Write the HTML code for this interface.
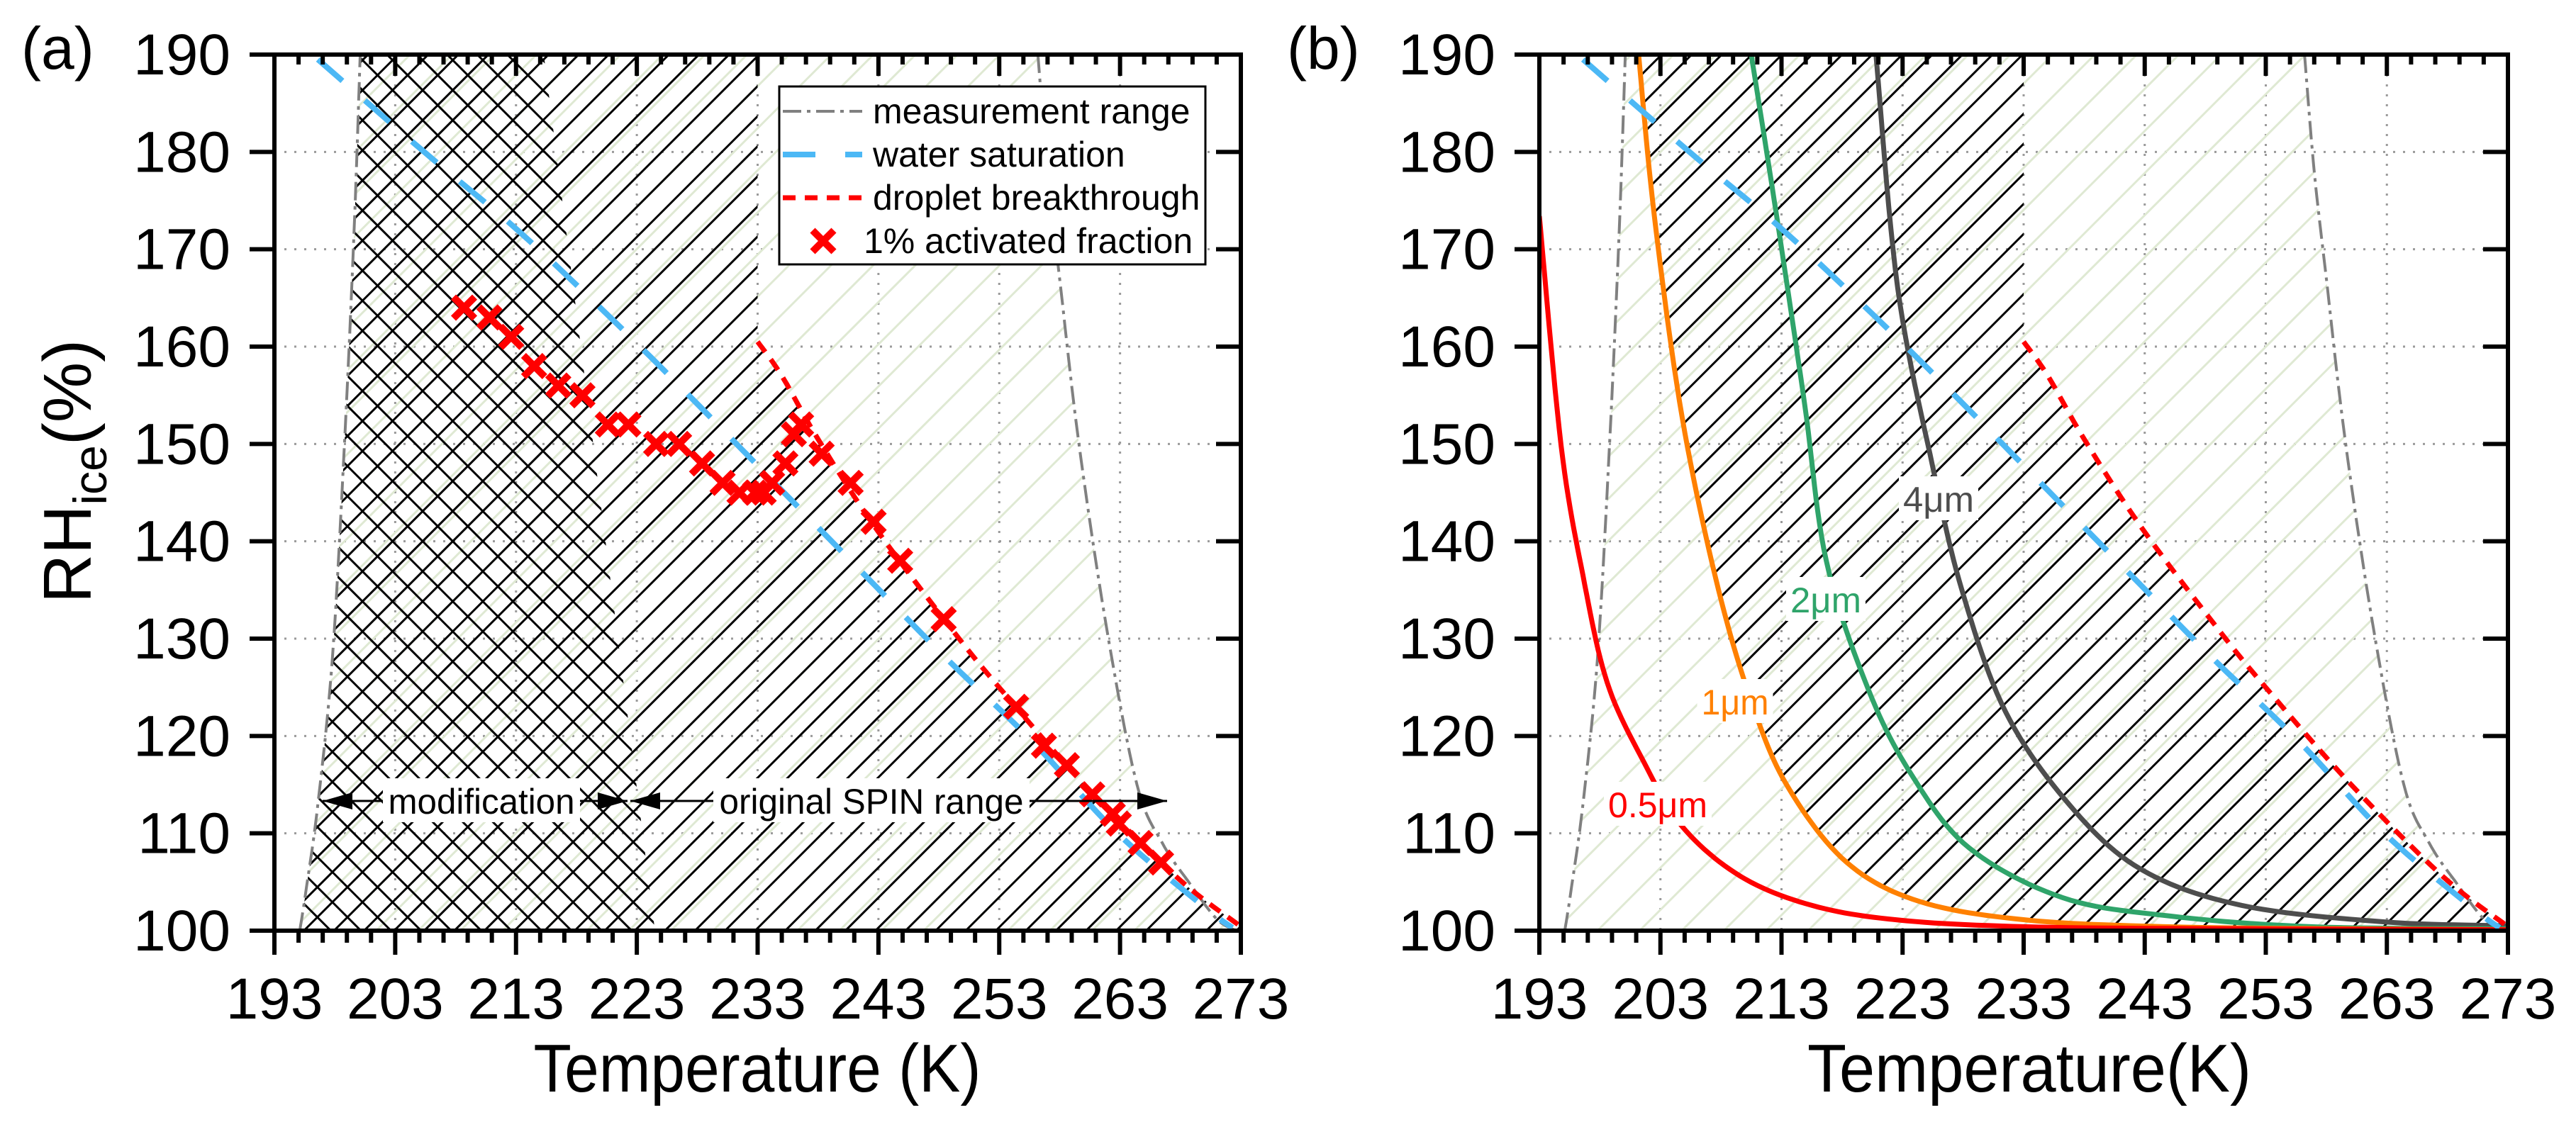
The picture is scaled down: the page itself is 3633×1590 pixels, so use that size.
<!DOCTYPE html>
<html><head><meta charset="utf-8"><style>
html,body{margin:0;padding:0;background:#fff;}
svg{display:block;font-family:"Liberation Sans",Arial,sans-serif;}
</style></head><body>
<svg id="fig" xmlns="http://www.w3.org/2000/svg" width="3633" height="1590" viewBox="0 0 3633 1590">
<defs>
<pattern id="hFwd" patternUnits="userSpaceOnUse" width="30" height="30" patternTransform="rotate(45)"><line x1="0" y1="0" x2="0" y2="30" stroke="#000" stroke-width="6"/></pattern>
<pattern id="hBack" patternUnits="userSpaceOnUse" width="30" height="30" patternTransform="rotate(-45)"><line x1="0" y1="0" x2="0" y2="30" stroke="#000" stroke-width="6"/></pattern>
<pattern id="hGreen" patternUnits="userSpaceOnUse" width="42" height="42" patternTransform="rotate(45)"><line x1="0" y1="0" x2="0" y2="42" stroke="#dfe9d3" stroke-width="6"/></pattern>
<clipPath id="clipA"><rect x="387" y="77" width="1363" height="1236"/></clipPath>
<clipPath id="clipB"><rect x="2171" y="77" width="1366" height="1236"/></clipPath>
</defs>
<g id="panelA"></g>
<g id="panelB"></g>
<text x="30" y="97" font-size="84">(a)</text>
<text x="1815" y="97" font-size="84">(b)</text>
<text transform="translate(128,665) rotate(-90)" text-anchor="middle" font-size="96">RH<tspan font-size="66" dy="22">ice</tspan><tspan dy="-22">(%)</tspan></text>
<text x="1068" y="1540" text-anchor="middle" font-size="96" textLength="631" lengthAdjust="spacingAndGlyphs">Temperature (K)</text>
<text x="2862" y="1540" text-anchor="middle" font-size="96" textLength="626" lengthAdjust="spacingAndGlyphs">Temperature(K)</text>
</svg>
<script>
// ---- data ----
const xTicks = [193,203,213,223,233,243,253,263,273];
const yTicks = [100,110,120,130,140,150,160,170,180,190];
const measLeft = [[195.1,100],[195.6,104],[196.6,113],[197.8,128],[198.8,150],[199.6,172],[200.1,190]];
const measRight = [[256.2,190],[257,178],[258,167],[259.6,150],[261.9,131],[264.4,115],[266.5,109],[268.8,104.8],[271,101.2],[272.6,100]];
const waterSat = [[196.6,189.5],[205.4,180],[213.1,172],[220.8,163],[227.3,155],[234.4,146],[241.5,137],[248.6,128],[255.7,119.5],[262.8,110],[269.9,102.5],[272.3,100.3]];
const breakthrough = [[233,160.5],[235,157],[238,150.5],[242.8,141.3],[249.3,130.6],[253.4,124.4],[259.9,115.2],[267.6,105.6],[272.8,100.6]];
const modBoundary = [[215.3,190],[224.5,100]];
const afT = [208.7,210.8,212.6,214.5,216.5,218.5,220.6,222.3,224.6,226.5,228.4,230.1,231.5,232.8,233.5,234.2,235.3,236.0,236.6,238.3,240.7,242.6,244.8,248.4,254.4,256.7,258.6,260.7,262.4,262.9,264.7,266.4];
const afRH = [164,163,161,158,156,155,152,152,150,150,148,146,145,145,145,146,148,151,152,149,146,142,138,132,123,119,117,114,112,111,109,107];
const curve05 = [[193,173.4],[194.8,149.8],[196.6,136.5],[198.6,125.5],[201.6,117.4],[204.8,110.7],[209.6,105.6],[215.5,102.6],[222.6,101.1],[233.2,100.4],[250,100.2],[273,100.1]];
const curve1 = [[201.2,190],[202.5,173.4],[204.8,152.7],[207.8,135],[210.8,122.5],[213.7,114.4],[218.4,107],[224.4,103],[233.2,101.1],[245,100.4],[260,100.2],[273,100.1]];
const curve2 = [[210.5,190],[212.6,173.4],[214.9,154.2],[216.7,138],[220.2,124.7],[223.8,115.9],[228.5,108.5],[236.2,103.4],[245.1,101.5],[256.9,100.4],[273,100.2]];
const curve4 = [[220.8,190],[222.6,166],[225.5,147.6],[227.9,135],[231.5,122.5],[236.8,112.9],[242.7,106.3],[251,102.6],[262.8,100.9],[273,100.5]];

const NS = "http://www.w3.org/2000/svg";
const Y0 = 77, Y1 = 1313;
function yS(r){ return Y0 + (190 - r) * (Y1 - Y0) / 90; }
function mk(parent, tag, attrs){ const e = document.createElementNS(NS, tag); for (const k in attrs) e.setAttribute(k, attrs[k]); parent.appendChild(e); return e; }
function smooth(pts, n){
  if (pts.length < 3) return pts.slice();
  const out = [];
  for (let i = 0; i < pts.length - 1; i++){
    const p0 = pts[Math.max(0,i-1)], p1 = pts[i], p2 = pts[i+1], p3 = pts[Math.min(pts.length-1,i+2)];
    for (let s = 0; s < n; s++){
      const t = s / n, t2 = t*t, t3 = t2*t;
      const f = (a,b,c,d) => 0.5*((2*b)+(-a+c)*t+(2*a-5*b+4*c-d)*t2+(-a+3*b-3*c+d)*t3);
      out.push([f(p0[0],p1[0],p2[0],p3[0]), f(p0[1],p1[1],p2[1],p3[1])]);
    }
  }
  out.push(pts[pts.length-1]);
  return out;
}
function pathD(pts, xS){ return pts.map((p,i)=>(i?'L':'M')+xS(p[0]).toFixed(1)+','+yS(p[1]).toFixed(1)).join(' '); }

function drawPanel(g, x0, x1, clip, isA){
  const xS = T => x0 + (T - 193) * (x1 - x0) / 80;
  const grid = mk(g, 'g', {});
  
  
  xTicks.slice(1,-1).forEach(t => { const l = mk(grid,'line',{x1:xS(t),x2:xS(t),y1:Y0,y2:Y1,stroke:'#9a9a9a','stroke-width':3,'stroke-dasharray':'3 11'});   });
  yTicks.slice(1,-1).forEach(t => { const l = mk(grid,'line',{x1:x0,x2:x1,y1:yS(t),y2:yS(t),stroke:'#9a9a9a','stroke-width':3,'stroke-dasharray':'3 11'});   });

  const plot = mk(g, 'g', {'clip-path':'url(#'+clip+')'});
  const mL = smooth(measLeft, 12), mR = smooth(measRight, 12), bt = smooth(breakthrough, 12);
  const measPoly = mL.concat(mR).concat([[273,100]]);
  const mreg = mk(plot,'path',{d:pathD(measPoly,xS)+' Z',fill:'url(#hGreen)'});
  
  
  let leftEdge;
  if (isA){ leftEdge = mL; }
  else { leftEdge = smooth(curve1, 12).slice().reverse(); }
  const blk = leftEdge.concat([[233,190],[233,160.5]]).concat(bt).concat([[273,100]]);
  const breg = mk(plot,'path',{d:pathD(blk,xS)+' Z',fill:'url(#hFwd)'});
  
  
  if (isA){
    const cross = mL.concat([modBoundary[0], modBoundary[1]]);
    const creg = mk(plot,'path',{d:pathD(cross,xS)+' Z',fill:'url(#hBack)'});
    
    
  }
  [mL, mR].forEach(c => { const p = mk(plot,'path',{d:pathD(c,xS),fill:'none',stroke:'#808080','stroke-width':4,'stroke-dasharray':'26 8 5 8'});   });
  if (!isA){
    const specs = [[curve4,'#4d4d4d','curve-4um'],[curve2,'#2fa46a','curve-2um'],[curve1,'#ff8000','curve-1um'],[curve05,'#ff0000','curve-0-5um']];
    specs.forEach(s => { const p = mk(plot,'path',{d:pathD(smooth(s[0],12),xS),fill:'none',stroke:s[1],'stroke-width':7});   });
  }
  const ws = mk(plot,'path',{d:pathD(smooth(waterSat,12),xS),fill:'none',stroke:'#4cb8f5','stroke-width':8,'stroke-dasharray':'46 42'});
  
  
  const br = mk(plot,'path',{d:pathD(bt,xS),fill:'none',stroke:'#ff0000','stroke-width':7,'stroke-dasharray':'18 13'});
  
  
  if (isA){
    const mg = mk(g,'g',{});
    
    
    afT.forEach((t,i) => {
      const cx = xS(t), cy = yS(afRH[i]), s = 15;
      const m = mk(mg,'path',{d:`M${cx-s},${cy-s}L${cx+s},${cy+s}M${cx-s},${cy+s}L${cx+s},${cy-s}`,stroke:'#ff0000','stroke-width':10,fill:'none'});
      
      
    });
  }
  const ax = mk(g,'g',{});
  
  
  const fr = mk(ax,'rect',{x:x0,y:Y0,width:x1-x0,height:Y1-Y0,fill:'none',stroke:'#000','stroke-width':6});
  
  
  for (let t = 193; t <= 273; t += 2){
    const major = (t - 193) % 10 === 0, x = xS(t);
    mk(ax,'line',{x1:x,x2:x,y1:Y1,y2:Y1+(major?34:17),stroke:'#000','stroke-width':6});
    mk(ax,'line',{x1:x,x2:x,y1:Y0,y2:Y0+(major?30:14),stroke:'#000','stroke-width':6});
  }
  xTicks.forEach(t => { const tx = mk(ax,'text',{x:xS(t),y:1437,'font-size':82,'text-anchor':'middle'}); tx.textContent = t;   });
  yTicks.forEach(t => {
    const y = yS(t);
    mk(ax,'line',{x1:x0-35,x2:x0,y1:y,y2:y,stroke:'#000','stroke-width':6});
    mk(ax,'line',{x1:x1-35,x2:x1,y1:y,y2:y,stroke:'#000','stroke-width':6});
    const tx = mk(ax,'text',{x:x0-62,y:y+28,'font-size':82,'text-anchor':'end'}); tx.textContent = t;
    
    
  });
  return xS;
}
const gA = document.getElementById('panelA'), gB = document.getElementById('panelB');
const xA = drawPanel(gA, 387, 1750, 'clipA', true);
const xB = drawPanel(gB, 2171, 3537, 'clipB', false);

function arrowHead(g, x, y, dir){ mk(g,'path',{d:`M${x},${y}L${x-dir*42},${y-12}L${x-dir*42},${y+12}Z`,fill:'#000'}); }
const ann = mk(gA,'g',{});


const ay = 1130;
mk(ann,'line',{x1:455,x2:885,y1:ay,y2:ay,stroke:'#000','stroke-width':3});
arrowHead(ann,455,ay,-1); arrowHead(ann,885,ay,1);
mk(ann,'line',{x1:889,x2:1646,y1:ay,y2:ay,stroke:'#000','stroke-width':3});
arrowHead(ann,889,ay,-1); arrowHead(ann,1646,ay,1);
mk(ann,'rect',{x:540,y:ay-32,width:278,height:62,fill:'#fff'});
const t1 = mk(ann,'text',{x:679,y:ay+18,'font-size':50,'text-anchor':'middle',textLength:263,lengthAdjust:'spacingAndGlyphs'}); t1.textContent = 'modification';


mk(ann,'rect',{x:1006,y:ay-32,width:446,height:62,fill:'#fff'});
const t2 = mk(ann,'text',{x:1229,y:ay+18,'font-size':50,'text-anchor':'middle',textLength:429,lengthAdjust:'spacingAndGlyphs'}); t2.textContent = 'original SPIN range';



const lg = mk(gA,'g',{});


mk(lg,'rect',{x:1099,y:122,width:601,height:251,fill:'#fff',stroke:'#000','stroke-width':3});
const legItems = [['measurement range','#808080',4,'26 8 5 8'],['water saturation','#4cb8f5',8,'46 42'],['droplet breakthrough','#ff0000',7,'18 13'],['1% activated fraction','#ff0000',0,'']];
legItems.forEach((it,i) => {
  const y = 157 + i*61;
  const ent = mk(lg,'g',{});
  
  
  if (it[2]) mk(ent,'line',{x1:1104,x2:1216,y1:y,y2:y,stroke:it[1],'stroke-width':it[2],'stroke-dasharray':it[3]});
  else mk(ent,'path',{d:`M1146,${y-15}L1176,${y+15}M1146,${y+15}L1176,${y-15}`,stroke:'#ff0000','stroke-width':10});
  const tx = mk(ent,'text',{x:i===3?1218:1231,y:y+17,'font-size':50}); tx.textContent = it[0];
});

const labs = [['0.5μm','#ff0000',2338,1135,140],['1μm','#ff8000',2447,990,95],['2μm','#2fa46a',2575,846,100],['4μm','#4d4d4d',2734,704,100]];
labs.forEach(l => {
  const lg2 = mk(gB,'g',{});
  
  
  mk(lg2,'rect',{x:l[2]-l[4]/2-6,y:l[3]-32,width:l[4]+12,height:62,fill:'#fff'});
  const tx = mk(lg2,'text',{x:l[2],y:l[3]+18,'font-size':50,'text-anchor':'middle',fill:l[1],textLength:l[4],lengthAdjust:'spacingAndGlyphs'}); tx.textContent = l[0];
});
</script>
</body></html>
